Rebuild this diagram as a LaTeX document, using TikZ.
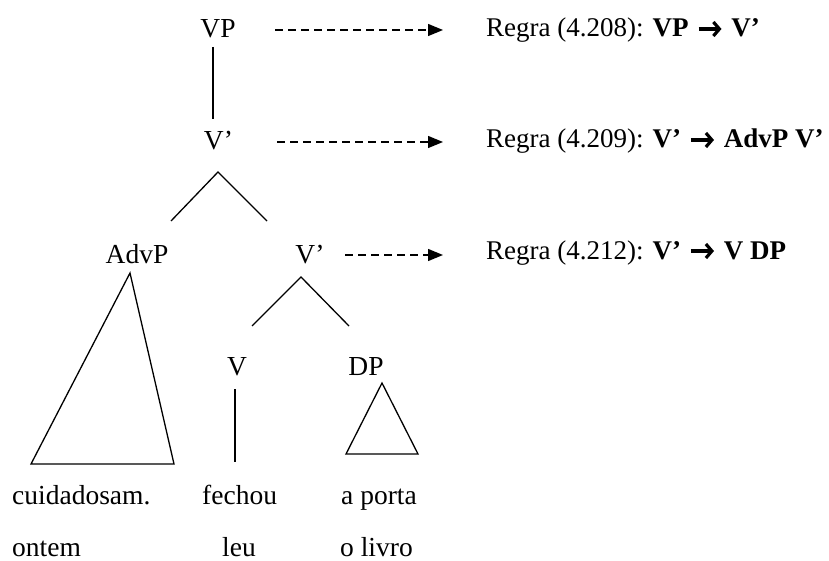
\documentclass[tikz,border=0pt]{standalone}
\usepackage{fontspec}
\setmainfont{Liberation Serif}
\usetikzlibrary{arrows.meta}
\tikzset{
  cat/.style={inner sep=0pt, anchor=base, font=\fontsize{27.5}{30}\selectfont},
  word/.style={inner sep=0pt, anchor=base west, text depth=0pt, font=\fontsize{27.5}{30}\selectfont},
  regra/.style={inner sep=0pt, anchor=base west, font=\fontsize{27}{30}\selectfont},
  branch/.style={line width=1.3pt},
  derive/.style={line width=1.3pt, dash pattern=on 8pt off 5pt, -{Triangle[length=15pt,width=12pt]}}
}
\newcommand{\rarrow}{\hspace{1.5pt}\tikz[baseline=-8pt]\draw[line width=3.2pt,-{Straight Barb[length=6pt,width=14pt]}] (0pt,0pt) -- (23pt,0pt);\hspace{1.5pt}}
\begin{document}
\begin{tikzpicture}[x=1pt,y=-1pt]
			\useasboundingbox (0,0) rectangle (829,561);
			% categories
			\node[cat] (vp) at (218,38) {VP};
			\node[cat] (vbar) at (218.5,150) {V’};
			\node[cat] (advp) at (137,263) {AdvP};
			\node[cat] (vbarb) at (310,263) {V’};
			\node[cat] (v) at (237,375) {V};
			\node[cat] (dp) at (366,375) {DP};
			% words
			\node[word] (w1) at (12,504) {cuidadosam.};
			\node[word] (w2) at (202,504) {fechou};
			\node[word] (w3) at (341,504) {a porta};
			\node[word] (w4) at (12,556) {ontem};
			\node[word] (w5) at (222,556) {leu};
			\node[word] (w6) at (340,556) {o livro};
			% rules
			\node[regra] (r1) at (486,37) {Regra (4.208): \textbf{VP \rarrow\ V’}};
			\node[regra] (r2) at (486,148) {Regra (4.209): \textbf{V’ \rarrow\ AdvP V’}};
			\node[regra] (r3) at (486,259) {Regra (4.212): \textbf{V’ \rarrow\ V DP}};
			% branches
			\coordinate (vp-b) at (213,47); \coordinate (vbar-t) at (213,119);
			\draw[branch] (vp-b) -- (vbar-t);
			\coordinate (vbar-a) at (218,172); \coordinate (advp-t) at (171,221); \coordinate (vbarb-t) at (267,221);
			\draw[branch] (advp-t) -- (vbar-a) -- (vbarb-t);
			\coordinate (vbarb-a) at (301,277); \coordinate (v-t) at (252,326); \coordinate (dp-t) at (349,326);
			\draw[branch] (v-t) -- (vbarb-a) -- (dp-t);
			\coordinate (v-b) at (235,389); \coordinate (w2-t) at (235,462);
			\draw[branch] (v-b) -- (w2-t);
			\draw[branch] (130,273) -- (31,464) -- (174,464) -- cycle;
			\draw[branch] (382,383) -- (346,454) -- (418,454) -- cycle;
			% derivation arrows
			\coordinate (d1) at (275,30); \coordinate (e1) at (443,30);
			\coordinate (d2) at (277,142); \coordinate (e2) at (443,142);
			\coordinate (d3) at (345,255); \coordinate (e3) at (443,255);
			\foreach \n in {1,2,3} { \draw[derive] (d\n) -- (e\n); }
		\end{tikzpicture}
\end{document}
